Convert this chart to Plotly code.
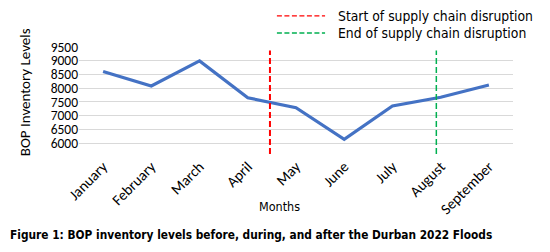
import plotly.graph_objects as go

months = ["January", "February", "March", "April", "May", "June", "July", "August", "September"]
inventory = [8610, 8080, 8995, 7650, 7285, 6135, 7350, 7670, 8115]

# disruption markers (position along month axis, vertical extent)
disruption_start_x = 3.46
disruption_end_x = 6.91
marker_y = [5600, 9370]
marker_names = ["Start of supply chain disruption", "End of supply chain disruption"]
marker_colors = ["#FF0000", "#00B050"]

y_ticks = [6000, 6500, 7000, 7500, 8000, 8500, 9000, 9500]

label_font = "Tahoma, 'DejaVu Sans Condensed', 'Liberation Sans', sans-serif"
num_font = "Carlito, Calibri, Lato, sans-serif"

fig = go.Figure()
fig.add_trace(go.Scatter(
    x=list(range(len(months))), y=inventory, mode="lines",
    line=dict(color="#4472C4", width=3.2), showlegend=False, hoverinfo="skip"))
for xpos, name, col, w in zip([disruption_start_x, disruption_end_x], marker_names,
                              marker_colors, [2, 1.5]):
    fig.add_trace(go.Scatter(
        x=[xpos, xpos], y=marker_y, mode="lines",
        line=dict(color=col, width=w, dash="6px,3px"),
        name=name, showlegend=False))

# manual legend (paper coordinates)
shapes = []
annotations = []
for i, (name, col) in enumerate(zip(marker_names, marker_colors)):
    ly = 1.29 - i * 0.159
    shapes.append(dict(type="line", xref="paper", yref="paper", x0=0.456, x1=0.567,
                       y0=ly, y1=ly, line=dict(color=col, width=1.3, dash="5px,2.5px")))
    annotations.append(dict(text=name, xref="paper", yref="paper", x=0.592, y=ly,
                            xanchor="left", yanchor="middle", showarrow=False,
                            font=dict(family=label_font, size=13.8, color="#000000")))

annotations.append(dict(text="Months", xref="paper", yref="paper", x=0.463, y=-0.495,
                        xanchor="center", yanchor="middle", showarrow=False,
                        font=dict(family=label_font, size=12.5, color="#000000")))
annotations.append(dict(text="BOP Inventory Levels", xref="paper", yref="paper",
                        x=-0.124, y=0.579, xanchor="center", yanchor="middle",
                        textangle=-90, showarrow=False,
                        font=dict(family=num_font, size=15, color="#000000")))
annotations.append(dict(
    text="<b>Figure 1: BOP inventory levels before, during, and after the Durban 2022 Floods</b>",
    xref="paper", yref="paper", x=-0.1636, y=-0.757, xanchor="left", yanchor="middle",
    showarrow=False, font=dict(family=label_font, size=11.8, color="#000000")))

fig.update_layout(
    width=542, height=244,
    margin=dict(l=71, r=37, t=39, b=98, autoexpand=False),
    paper_bgcolor="white", plot_bgcolor="white",
    font=dict(family=num_font, size=14, color="#000000"),
    showlegend=False,
    xaxis=dict(range=[-0.5, 8.5], tickmode="array", tickvals=list(range(len(months))),
               ticktext=months, tickangle=-45, showgrid=False, zeroline=False,
               showline=False, ticks="", automargin=False,
               tickfont=dict(size=15)),
    yaxis=dict(range=[5600, 9500], tickmode="array", tickvals=y_ticks,
               showgrid=True, gridcolor="#D9D9D9", gridwidth=1, zeroline=False,
               showline=False, ticks="", automargin=False,
               tickfont=dict(size=13.5)),
    shapes=shapes,
    annotations=annotations,
)
fig.write_html("out.html")
